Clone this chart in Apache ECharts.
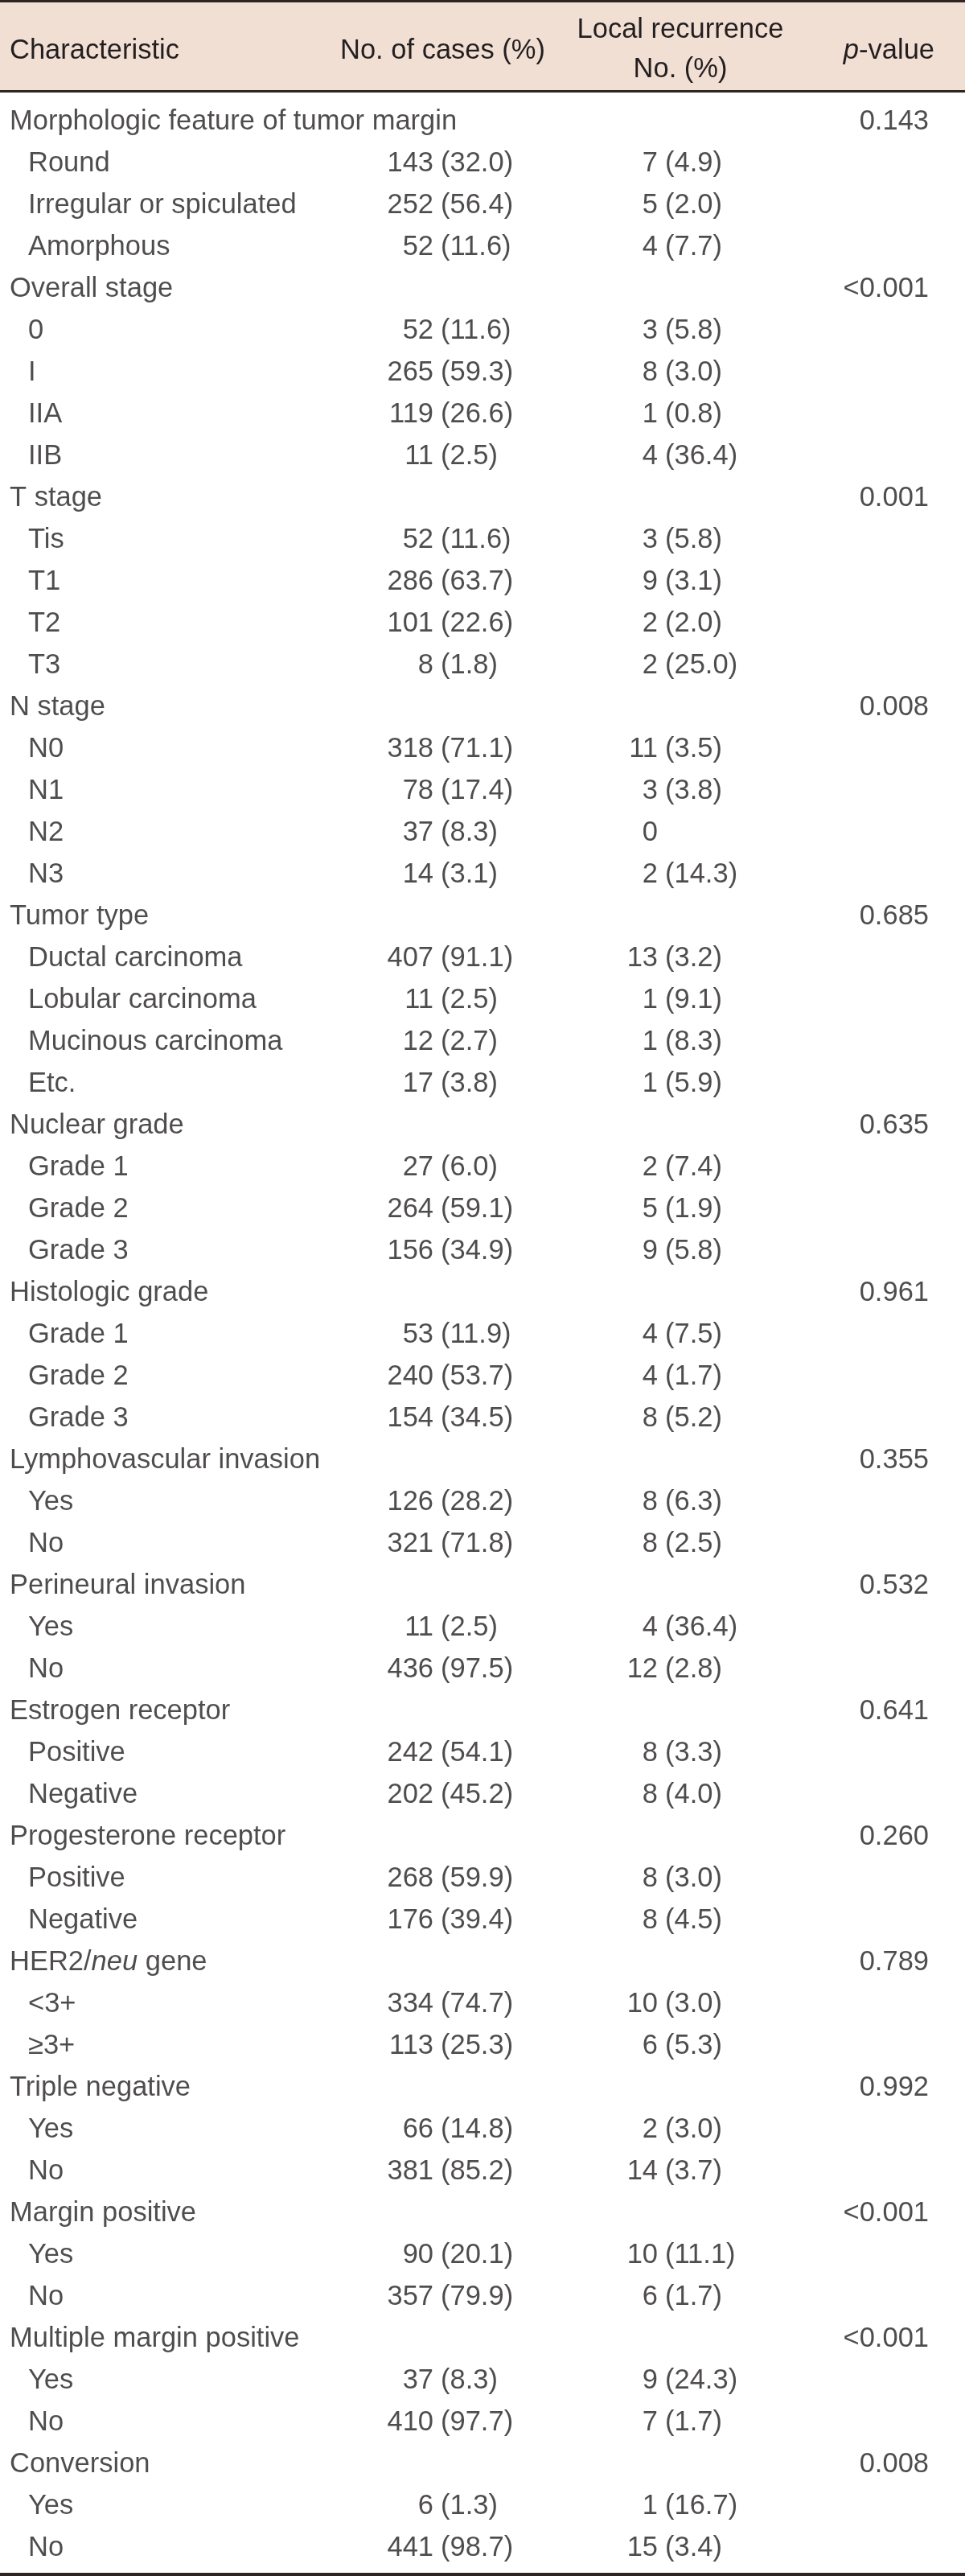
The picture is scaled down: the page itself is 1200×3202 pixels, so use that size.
<!DOCTYPE html>
<html>
<head>
<meta charset="utf-8">
<script src="https://cdn.jsdelivr.net/npm/echarts@6/dist/echarts.min.js"></script>
<style>
html,body{margin:0;padding:0;background:#fff;}
#chart{width:1200px;height:3202px;}
</style>
</head>
<body>
<div id="chart"></div>
<script>
// ---- Table data ----
const rowLabels = [
  'Morphologic feature of tumor margin','Round','Irregular or spiculated','Amorphous',
  'Overall stage','0','I','IIA','IIB',
  'T stage','Tis','T1','T2','T3',
  'N stage','N0','N1','N2','N3',
  'Tumor type','Ductal carcinoma','Lobular carcinoma','Mucinous carcinoma','Etc.',
  'Nuclear grade','Grade 1','Grade 2','Grade 3',
  'Histologic grade','Grade 1','Grade 2','Grade 3',
  'Lymphovascular invasion','Yes','No',
  'Perineural invasion','Yes','No',
  'Estrogen receptor','Positive','Negative',
  'Progesterone receptor','Positive','Negative',
  'HER2/neu gene','<3+','\u22653+',
  'Triple negative','Yes','No',
  'Margin positive','Yes','No',
  'Multiple margin positive','Yes','No',
  'Conversion','Yes','No'
];
const rowLevel = [
  0,1,1,1, 0,1,1,1,1, 0,1,1,1,1, 0,1,1,1,1, 0,1,1,1,1, 0,1,1,1, 0,1,1,1,
  0,1,1, 0,1,1, 0,1,1, 0,1,1, 0,1,1, 0,1,1, 0,1,1, 0,1,1, 0,1,1
];
const caseCounts = [
  null,143,252,52, null,52,265,119,11, null,52,286,101,8, null,318,78,37,14,
  null,407,11,12,17, null,27,264,156, null,53,240,154, null,126,321, null,11,436,
  null,242,202, null,268,176, null,334,113, null,66,381, null,90,357, null,37,410, null,6,441
];
const casePcts = [
  null,32.0,56.4,11.6, null,11.6,59.3,26.6,2.5, null,11.6,63.7,22.6,1.8, null,71.1,17.4,8.3,3.1,
  null,91.1,2.5,2.7,3.8, null,6.0,59.1,34.9, null,11.9,53.7,34.5, null,28.2,71.8, null,2.5,97.5,
  null,54.1,45.2, null,59.9,39.4, null,74.7,25.3, null,14.8,85.2, null,20.1,79.9, null,8.3,97.7, null,1.3,98.7
];
const recurCounts = [
  null,7,5,4, null,3,8,1,4, null,3,9,2,2, null,11,3,0,2,
  null,13,1,1,1, null,2,5,9, null,4,4,8, null,8,8, null,4,12,
  null,8,8, null,8,8, null,10,6, null,2,14, null,10,6, null,9,7, null,1,15
];
const recurPcts = [
  null,4.9,2.0,7.7, null,5.8,3.0,0.8,36.4, null,5.8,3.1,2.0,25.0, null,3.5,3.8,null,14.3,
  null,3.2,9.1,8.3,5.9, null,7.4,1.9,5.8, null,7.5,1.7,5.2, null,6.3,2.5, null,36.4,2.8,
  null,3.3,4.0, null,3.0,4.5, null,3.0,5.3, null,3.0,3.7, null,11.1,1.7, null,24.3,1.7, null,16.7,3.4
];
const pValues = [
  '0.143',null,null,null, '<0.001',null,null,null,null, '0.001',null,null,null,null,
  '0.008',null,null,null,null, '0.685',null,null,null,null, '0.635',null,null,null,
  '0.961',null,null,null, '0.355',null,null, '0.532',null,null, '0.641',null,null,
  '0.260',null,null, '0.789',null,null, '0.992',null,null, '<0.001',null,null,
  '<0.001',null,null, '0.008',null,null
];
const headerLabels = ['Characteristic','No. of cases (%)','Local recurrence','No. (%)','p-value'];

// ---- Layout / style ----
const FONT = '"Liberation Sans", Arial, sans-serif';
const FS = 34.5;
const TXT = '#231f20';
const LINE = '#2e2421';
const ROW_H = 52;
const TOP = 125;
const X_GROUP = 12, X_SUB = 35, X_CASE = 539, X_REC = 818, X_P = 1155, GAP = 9;

const baseLabel = {
  show: true, fontFamily: FONT, fontSize: FS, color: TXT, verticalAlign: 'middle',
  rich: { i: { fontFamily: FONT, fontSize: FS, color: TXT, fontStyle: 'italic' } }
};
function lbl(position, distance, formatter) {
  return Object.assign({}, baseLabel, { position, distance, formatter });
}
function fmtLabel(t) {
  if (t.indexOf('/neu') >= 0) return t.replace('neu', '{i|neu}');
  return t;
}
function pts(arr, x) {
  const out = [];
  arr.forEach((v, i) => { if (v !== null && v !== undefined) out.push({ value: [typeof x === 'function' ? x(i) : x, i], raw: v }); });
  return out;
}
function textSeries(name, arr, x, position, distance, fmt) {
  const data = pts(arr, x);
  return {
    name, type: 'scatter', symbolSize: 0, silent: true,
    data: data.map(d => ({ value: d.value })),
    label: lbl(position, distance, p => fmt(data[p.dataIndex].raw))
  };
}

const chart = echarts.init(document.getElementById('chart'), null, { renderer: 'canvas' });
chart.setOption({
  animation: false,
  backgroundColor: '#ffffff',
  grid: { left: 0, right: 0, top: TOP, height: ROW_H * rowLabels.length, containLabel: false },
  xAxis: { type: 'value', min: 0, max: 1200, show: false },
  yAxis: { type: 'category', data: rowLabels.map((_, i) => i), inverse: true, show: false },
  graphic: [
    { type: 'rect', shape: { x: 0, y: 0, width: 1200, height: 114 }, style: { fill: '#f2dfd4' }, z: -10 },
    { type: 'rect', shape: { x: 0, y: 0, width: 1200, height: 3 }, style: { fill: LINE } },
    { type: 'rect', shape: { x: 0, y: 112, width: 1200, height: 3 }, style: { fill: LINE } },
    { type: 'rect', shape: { x: 0, y: 3198, width: 1200, height: 4 }, style: { fill: LINE } },
    { type: 'text', x: X_GROUP, y: 63, style: { text: headerLabels[0], font: FS + 'px ' + FONT, fill: TXT, align: 'left', verticalAlign: 'middle' } },
    { type: 'text', x: 678, y: 63, style: { text: headerLabels[1], font: FS + 'px ' + FONT, fill: TXT, align: 'right', verticalAlign: 'middle' } },
    { type: 'text', x: 846, y: 37, style: { text: headerLabels[2], font: FS + 'px ' + FONT, fill: TXT, align: 'center', verticalAlign: 'middle' } },
    { type: 'text', x: 846, y: 86, style: { text: headerLabels[3], font: FS + 'px ' + FONT, fill: TXT, align: 'center', verticalAlign: 'middle' } },
    { type: 'text', x: 1162, y: 63, style: {
        text: '{i|p}-value', font: FS + 'px ' + FONT, fill: TXT, align: 'right', verticalAlign: 'middle',
        rich: { i: { fontFamily: FONT, fontSize: FS, fill: TXT, fontStyle: 'italic' } } } }
  ],
  series: [
    textSeries('Characteristic', rowLabels, i => rowLevel[i] ? X_SUB : X_GROUP, 'right', 0, v => fmtLabel(v)),
    textSeries('Cases', caseCounts, X_CASE, 'left', 0, v => String(v)),
    textSeries('CasesPct', casePcts, X_CASE, 'right', GAP, v => '(' + v.toFixed(1) + ')'),
    textSeries('Recurrence', recurCounts, X_REC, 'left', 0, v => String(v)),
    textSeries('RecurrencePct', recurPcts, X_REC, 'right', GAP, v => '(' + v.toFixed(1) + ')'),
    textSeries('pValue', pValues, X_P, 'left', 0, v => v)
  ]
});
</script>
</body>
</html>
